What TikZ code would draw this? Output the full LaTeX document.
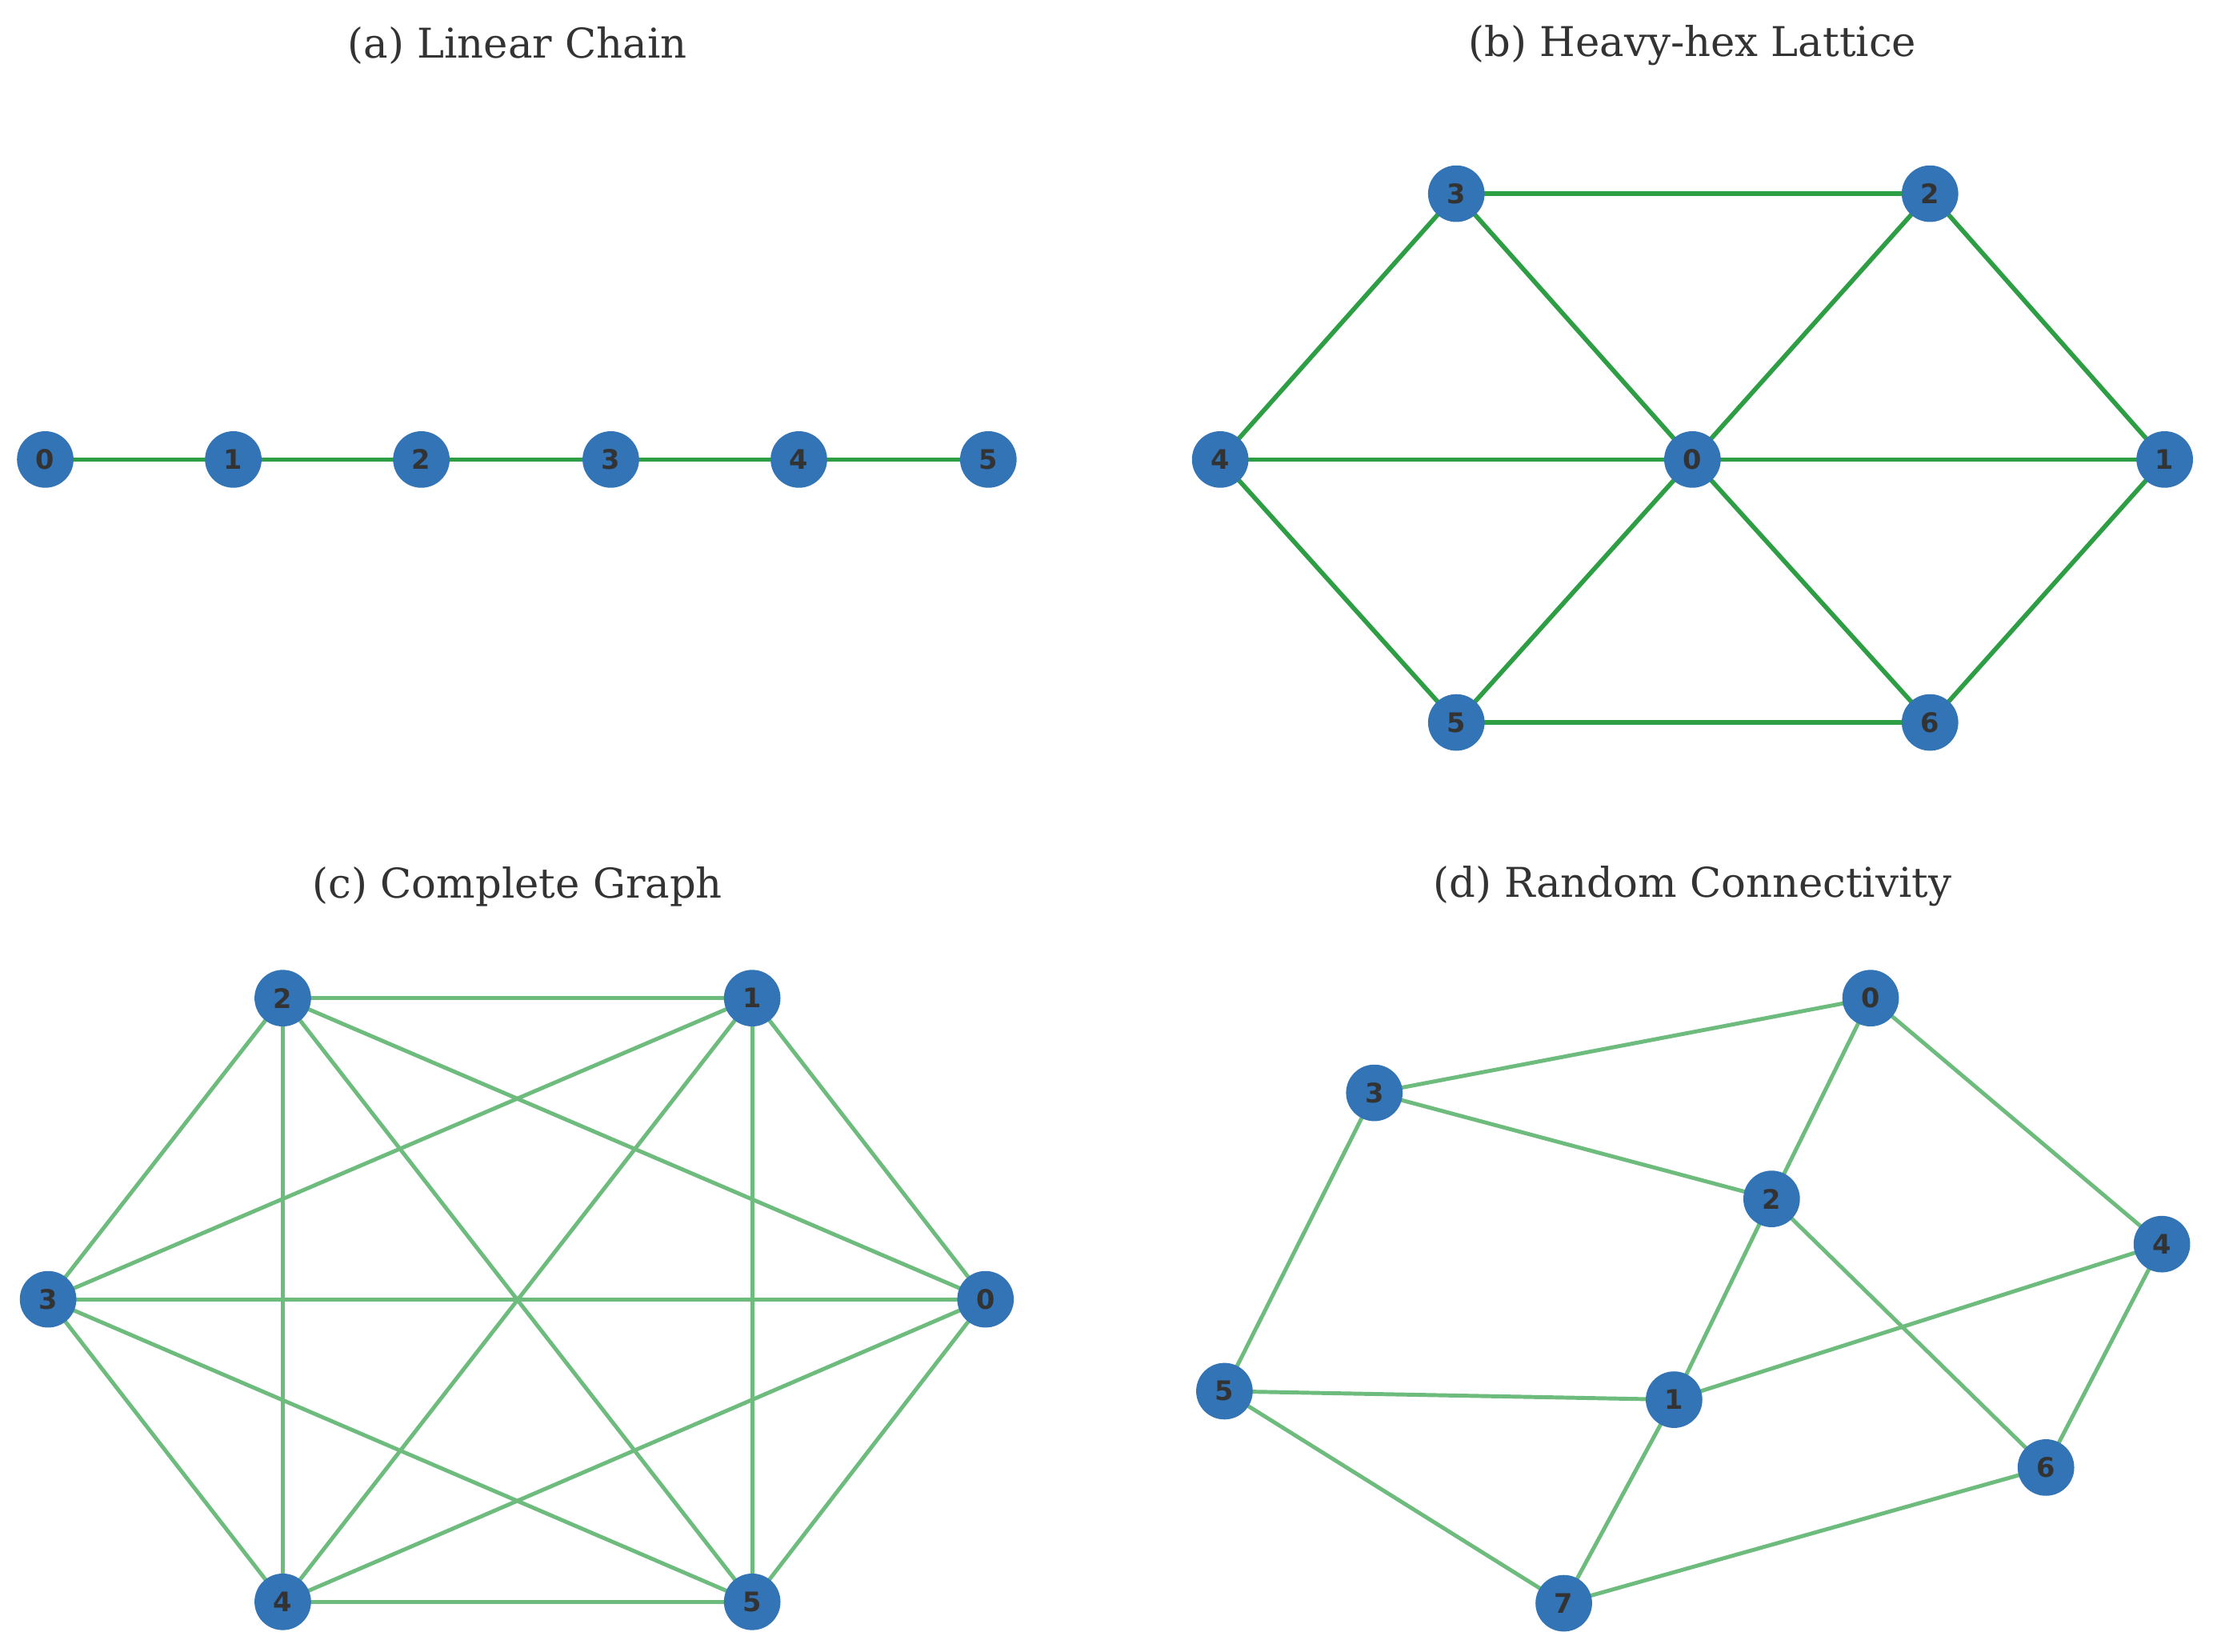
\documentclass[tikz,border=0pt]{standalone}
\usepackage{fontspec}
\setmainfont{DejaVu Serif}
\newfontfamily\nodefont{DejaVu Sans}
\begin{document}
\begin{tikzpicture}[x=0.5pt,y=-0.5pt,
  v/.style={circle,fill=nblue,minimum size=20pt,inner sep=0pt,text=tgray,font=\nodefont\bfseries\fontsize{9.5}{10}\selectfont},
  e/.style={draw=egreen,line width=1.6pt},
  el/.style={draw=egreen!70!white,line width=1.4pt},
  ttl/.style={text=tgray,font=\fontsize{14.5}{16}\selectfont}]
\definecolor{nblue}{HTML}{3274B5}
\definecolor{egreen}{HTML}{2E9E45}
\definecolor{tgray}{HTML}{333333}
\useasboundingbox (0,0) rectangle (1568,1168);
\node[ttl] (ta) at (366,32) {(a) Linear Chain};
\node[ttl] (tb) at (1197,32) {(b) Heavy-hex Lattice};
\node[ttl] (tc) at (366,627) {(c) Complete Graph};
\node[ttl] (td) at (1197,627) {(d) Random Connectivity};
% (a)
\foreach \i/\x in {0/32,1/165,2/298,3/432,4/565,5/699} \coordinate (a\i) at (\x,325);
\foreach \i/\j in {0/1,1/2,2/3,3/4,4/5} \draw[e] (a\i) -- (a\j);
\foreach \i in {0,...,5} \node[v] (na\i) at (a\i) {\i};
% (b)
\coordinate (b3) at (1030,137); \coordinate (b2) at (1365,137);
\coordinate (b4) at (863,325); \coordinate (b0) at (1197,325); \coordinate (b1) at (1531,325);
\coordinate (b5) at (1030,511); \coordinate (b6) at (1365,511);
\foreach \i/\j in {3/2,3/4,3/0,2/0,2/1,4/0,0/1,4/5,0/5,0/6,1/6,5/6} \draw[e] (b\i) -- (b\j);
\foreach \i in {0,...,6} \node[v] (nb\i) at (b\i) {\i};
% (c)
\coordinate (c2) at (200,706); \coordinate (c1) at (532,706);
\coordinate (c3) at (34,919); \coordinate (c0) at (697,919);
\coordinate (c4) at (200,1133); \coordinate (c5) at (532,1133);
\foreach \i in {0,...,5}{\foreach \j in {0,...,5}{\ifnum\i<\j \draw[el] (c\i) -- (c\j);\fi}}
\foreach \i in {0,...,5} \node[v] (nc\i) at (c\i) {\i};
% (d)
\coordinate (d0) at (1323,706); \coordinate (d3) at (972,773);
\coordinate (d2) at (1253,848); \coordinate (d4) at (1529,880);
\coordinate (d5) at (866,984); \coordinate (d1) at (1184,990);
\coordinate (d6) at (1447,1038); \coordinate (d7) at (1106,1134);
\foreach \i/\j in {3/0,3/2,0/2,0/4,3/5,2/1,2/6,4/1,4/6,5/1,5/7,1/7,7/6} \draw[el] (d\i) -- (d\j);
\foreach \i in {0,...,7} \node[v] (nd\i) at (d\i) {\i};
\end{tikzpicture}
\end{document}
